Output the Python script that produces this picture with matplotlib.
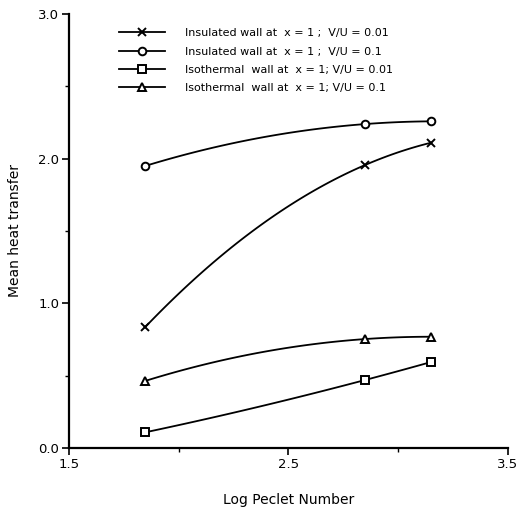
import numpy as np
import matplotlib
matplotlib.use("Agg")
import matplotlib.pyplot as plt
from matplotlib.lines import Line2D

# Data
log_pe = [1.846, 2.849, 3.149]
insulated_001 = [0.834, 1.956, 2.11]
insulated_01 = [1.949, 2.239, 2.258]
isothermal_001 = [0.108, 0.47, 0.594]
isothermal_01 = [0.463, 0.753, 0.769]

labels = [
    "Insulated wall at  x = 1 ;  V/U = 0.01",
    "Insulated wall at  x = 1 ;  V/U = 0.1",
    "Isothermal  wall at  x = 1; V/U = 0.01",
    "Isothermal  wall at  x = 1; V/U = 0.1",
]
markers = ["x", "o", "s", "^"]
series = [insulated_001, insulated_01, isothermal_001, isothermal_01]

plt.rcParams["font.family"] = "DejaVu Sans"

fig = plt.figure(figsize=(5.17, 5.12), dpi=100)
ax = fig.add_axes([0.1335, 0.125, 0.849, 0.8477])

handles = []
for ys, m, lbl in zip(series, markers, labels):
    # smooth curve through the three points, like the hand-drawn original
    c = np.polyfit(log_pe, ys, 2)
    xs = np.linspace(log_pe[0], log_pe[-1], 60)
    ax.plot(xs, np.polyval(c, xs), color="black", lw=1.3)
    ax.plot(log_pe, ys, linestyle="none", marker=m, color="black",
            markerfacecolor="white", markersize=5.5 if m != "x" else 6,
            markeredgewidth=1.4)
    handles.append(Line2D([], [], color="black", lw=1.3, marker=m,
                          markerfacecolor="white", markersize=5.5,
                          markeredgewidth=1.4, label=lbl))

ax.set_xlim(1.5, 3.5)
ax.set_ylim(0, 3.0)
ax.set_xticks([1.5, 2.5, 3.5])
ax.set_xticklabels(["1.5", "2.5", "3.5"])
ax.set_xticks([2.0, 3.0], minor=True)
ax.set_yticks([0, 1, 2, 3])
ax.set_yticklabels(["0.0", "1.0", "2.0", "3.0"])
ax.set_yticks([0.5, 1.5, 2.5], minor=True)
ax.tick_params(which="major", direction="out", length=5, width=1.2,
               labelsize=9.5, colors="black", pad=2)
ax.tick_params(which="minor", direction="out", length=3, width=1.0)

for side in ["top", "right"]:
    ax.spines[side].set_visible(False)
for side in ["left", "bottom"]:
    ax.spines[side].set_linewidth(1.6)

ax.set_xlabel("Log Peclet Number", fontsize=10, labelpad=16)
ax.set_ylabel("Mean heat transfer", fontsize=10, labelpad=12)

ax.legend(handles=handles, loc="upper left", bbox_to_anchor=(0.113, 0.967),
          frameon=False, fontsize=8, handlelength=4.2, handletextpad=1.8,
          labelspacing=0.75, borderpad=0, borderaxespad=0)

fig.savefig("out.png", dpi=100)
